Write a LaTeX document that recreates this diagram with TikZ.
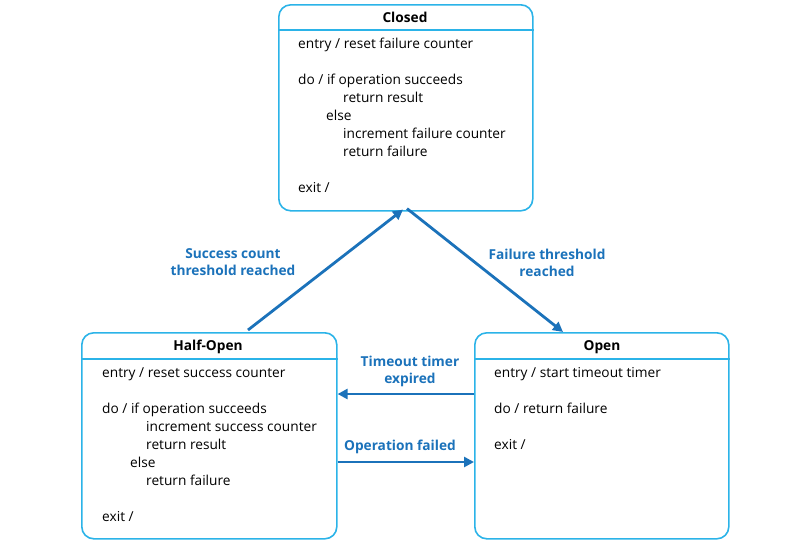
\documentclass[tikz,border=0pt]{standalone}
\usepackage{fontspec}
\setmainfont{Open Sans}
\usetikzlibrary{arrows.meta,calc}

\definecolor{stateedge}{HTML}{2BB3E8}
\definecolor{transblue}{HTML}{1B72BA}

\newcommand{\bodylines}[1]{\vtop{\baselineskip=18pt\lineskiplimit=-20pt #1}}
\newcommand{\bline}[2][0pt]{\hbox{\hspace*{#1}#2}}

\begin{document}
\begin{tikzpicture}[x=1pt,y=-1pt,
  statebox/.style={draw=stateedge, line width=1.6pt, rounded corners=12pt,
    rectangle, inner sep=0pt, minimum width=#1, minimum height=206pt, anchor=north west},
  statebox/.default=254pt,
  statetitle/.style={font=\fontsize{13.7}{16}\selectfont\bfseries, inner sep=0pt},
  statetext/.style={font=\fontsize{13.7}{18}\selectfont, anchor=base west, inner sep=0pt},
  divider/.style={draw=stateedge, line width=1.6pt},
  trans/.style={draw=transblue, line width=2.8pt, -{Triangle[length=10pt,width=10pt]}},
  translabel/.style={text=transblue, font=\fontsize{13.7}{17}\selectfont\bfseries, align=center, inner sep=0pt}
]
\useasboundingbox (0,0) rectangle (808,539);

% Closed state
\node[statebox=254pt] (closed) at (278,4) {};
\node[statetitle] (closedtitle) at (405,17) {Closed};
\draw[divider] (closed.west |- 0,30) -- (closed.east |- 0,30);
\node[statetext] (closedbody) at (298,48.8) {\bodylines{%
  \bline{entry / reset failure counter}
  \bline{}
  \bline{do / if operation succeeds}
  \bline[45pt]{return result}
  \bline[28pt]{else}
  \bline[45pt]{increment failure counter}
  \bline[45pt]{return failure}
  \bline{}
  \bline{exit /}}};

% Half-Open state
\node[statebox=255pt] (halfopen) at (81,332) {};
\node[statetitle] (halfopentitle) at (208,347) {Half-Open};
\draw[divider] (halfopen.west |- 0,359) -- (halfopen.east |- 0,359);
\node[statetext] (halfopenbody) at (102,377.8) {\bodylines{%
  \bline{entry / reset success counter}
  \bline{}
  \bline{do / if operation succeeds}
  \bline[44pt]{increment success counter}
  \bline[44pt]{return result}
  \bline[28pt]{else}
  \bline[44pt]{return failure}
  \bline{}
  \bline{exit /}}};

% Open state
\node[statebox=254pt] (open) at (474,332) {};
\node[statetitle] (opentitle) at (602,347) {Open};
\draw[divider] (open.west |- 0,359) -- (open.east |- 0,359);
\node[statetext] (openbody) at (494,377.8) {\bodylines{%
  \bline{entry / start timeout timer}
  \bline{}
  \bline{do / return failure}
  \bline{}
  \bline{exit /}}};

% Transitions
\draw[trans] ($(halfopen.north west)+(167,-2)$) -- ($(closed.south west)+(125,-2)$);
\draw[trans] ($(closed.south west)+(129,-3)$) -- ($(open.north west)+(89,0)$);
\draw[trans] (open.west |- 0,394) -- (halfopen.east |- 0,394);
\draw[trans] (halfopen.east |- 0,462) -- (open.west |- 0,462);

% Transition labels
\node[translabel] (lblsuccess) at (233,262.5) {Success count\\threshold reached};
\node[translabel] (lblfailure) at (547,262.5) {Failure threshold\\reached};
\node[translabel] (lbltimeout) at (410,371.5) {Timeout timer\\expired};
\node[translabel] (lblopfail) at (400,447) {Operation failed};
\end{tikzpicture}
\end{document}
